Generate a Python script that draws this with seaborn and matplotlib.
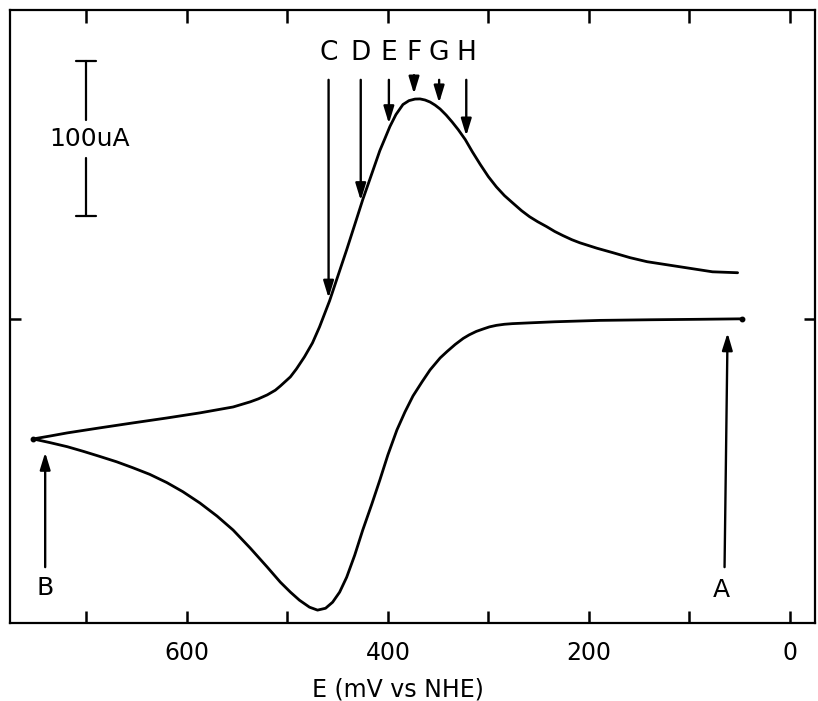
import numpy as np
import pandas as pd
import matplotlib
matplotlib.use("Agg")
import matplotlib.pyplot as plt
from matplotlib.ticker import FixedLocator, FixedFormatter
import seaborn as sns

# Cyclic voltammogram: potential E (mV vs NHE) and current I (uA)
# forward sweep, from the start potential up to the switching potential
forward_E = [48, 90, 139, 189, 234, 259, 276, 284, 292, 299, 305, 312, 319, 325,
             333, 341, 348, 358, 366, 375, 383, 391, 400, 408, 416, 425, 433, 441,
             448, 455, 462, 470, 478, 488, 497, 507, 520, 537, 554, 570, 587, 604,
             620, 637, 654, 670, 687, 703, 719, 736, 753]
forward_I = [0.0, -0.3, -0.6, -1.0, -1.9, -2.6, -3.1, -3.5, -4.2, -5.2, -6.5, -8.1,
             -10.3, -12.6, -16.5, -21.0, -25.2, -32.9, -40.6, -49.7, -60.0, -71.6,
             -87.7, -103.9, -119.4, -136.1, -152.3, -166.5, -176.1, -182.6, -186.5,
             -187.7, -185.8, -181.3, -176.1, -169.7, -160.0, -147.7, -136.1, -127.1,
             -118.7, -111.4, -105.5, -100.2, -95.9, -92.1, -88.6, -85.4, -82.4,
             -79.8, -77.4]

# reverse sweep, from the switching potential back towards the start
reverse_E = [753, 736, 719, 687, 654, 620, 587, 554, 537, 529, 520, 512, 507, 497,
             491, 483, 475, 468, 458, 450, 441, 433, 425, 416, 408, 403, 398, 392,
             385, 379, 373, 368, 363, 358, 353, 348, 342, 336, 330, 323, 316, 308,
             300, 292, 284, 276, 267, 259, 251, 242, 234, 226, 217, 209, 192, 176,
             159, 142, 126, 109, 93, 77, 52]
reverse_I = [-77.4, -75.5, -73.5, -70.3, -67.1, -63.9, -60.6, -56.8, -53.5, -51.6,
             -49.0, -46.0, -43.3, -37.4, -32.3, -24.5, -15.5, -5.2, 11.6, 27.1,
             44.5, 60.6, 76.8, 93.5, 108.4, 116.1, 123.9, 131.6, 138.1, 140.6,
             141.6, 141.7, 141.0, 139.7, 137.7, 135.2, 131.3, 126.8, 121.9, 115.5,
             107.7, 99.4, 91.6, 85.0, 79.4, 74.8, 69.7, 65.8, 62.6, 59.4, 56.3,
             53.7, 51.0, 49.0, 45.5, 42.6, 39.4, 36.8, 35.2, 33.5, 31.9, 30.3, 29.7]

# sampling points marked along the reverse sweep
point_labels = ["C", "D", "E", "F", "G", "H"]
point_E = [459, 427, 399, 374, 349, 322]

# start (A) and switching (B) potentials
start_label, start_E = "A", 63
switch_label, switch_E = "B", 741

# current scale bar
scale_bar_E = 700
scale_bar_I = [66, 166]
scale_bar_text = "100uA"

xticks = [700, 600, 500, 400, 300, 200, 100, 0]
xtick_labels = ["", "600", "", "400", "", "200", "", "0"]

sns.set_theme(style="ticks")
plt.rcParams["font.family"] = ["DejaVu Sans"]

fig = plt.figure(figsize=(8.18, 7.01), dpi=100)
ax = fig.add_axes([10 / 818, 1 - 623 / 701, 805 / 818, 613 / 701])

fwd = pd.DataFrame({"E": forward_E, "I": forward_I})
rev = pd.DataFrame({"E": reverse_E, "I": reverse_I})
for d in (fwd, rev):
    sns.lineplot(data=d, x="E", y="I", sort=False, estimator=None,
                 color="black", lw=2.0, ax=ax,
                 solid_joinstyle="round", solid_capstyle="round")
    ax.plot(d["E"].iloc[[0]], d["I"].iloc[[0]], "o", color="black", ms=3.2)

ax.set_xlim(776, -25)
ax.set_ylim(-196, 199)

for s in ax.spines.values():
    s.set_color("black")
    s.set_linewidth(1.6)

ax.xaxis.set_major_locator(FixedLocator(xticks))
ax.xaxis.set_major_formatter(FixedFormatter(xtick_labels))
ax.set_yticks([0])
ax.set_yticklabels([])
ax.tick_params(axis="x", which="major", direction="in", length=9, width=1.8,
               top=True, bottom=True, labelsize=17, pad=13, colors="black")
ax.tick_params(axis="y", which="major", direction="in", length=8, width=1.8,
               left=True, right=True, colors="black")

ax.set_xlabel("E (mV vs NHE)", fontsize=17, color="black")
ax.set_ylabel("")
ax.xaxis.set_label_coords(0.482, -0.089)

arrow_style = dict(arrowstyle="-|>,head_length=0.85,head_width=0.26",
                   color="black", lw=1.7, shrinkA=0, shrinkB=0,
                   mutation_scale=12)

# arrows down onto the reverse sweep
rev_E_inc = np.array(reverse_E)[::-1]
rev_I_inc = np.array(reverse_I)[::-1]
for lab, e in zip(point_labels, point_E):
    tip = np.interp(e, rev_E_inc, rev_I_inc) + 3.5
    tail = 157 if lab == "F" else 154
    ax.annotate("", xy=(e, tip), xytext=(e, tail), arrowprops=arrow_style)
    ax.text(e, 171.5, lab, ha="center", va="center", fontsize=19, color="black")

# arrows up to the start and switching points
fwd_E_inc = np.array(forward_E)
fwd_I_inc = np.array(forward_I)
ax.annotate("", xy=(start_E - 1, np.interp(start_E, fwd_E_inc, fwd_I_inc) - 9),
            xytext=(start_E + 2, -160), arrowprops=arrow_style)
ax.text(start_E + 5, -174.5, start_label, ha="center", va="center",
        fontsize=18, color="black")
ax.annotate("", xy=(switch_E, np.interp(switch_E, fwd_E_inc, fwd_I_inc) - 7),
            xytext=(switch_E, -160), arrowprops=arrow_style)
ax.text(switch_E, -173.5, switch_label, ha="center", va="center",
        fontsize=18, color="black")

# scale bar with its label in the gap
lo, hi = scale_bar_I
mid = (lo + hi) / 2
gap = 12.3
ax.plot([scale_bar_E, scale_bar_E], [hi, mid + gap], color="black", lw=1.6)
ax.plot([scale_bar_E, scale_bar_E], [lo, mid - gap], color="black", lw=1.6)
for y in (lo, hi):
    ax.plot([scale_bar_E + 10, scale_bar_E - 10], [y, y], color="black", lw=1.6)
ax.text(scale_bar_E - 3, mid, scale_bar_text, ha="center", va="center",
        fontsize=18, color="black")

fig.savefig("out.png", dpi=100)
